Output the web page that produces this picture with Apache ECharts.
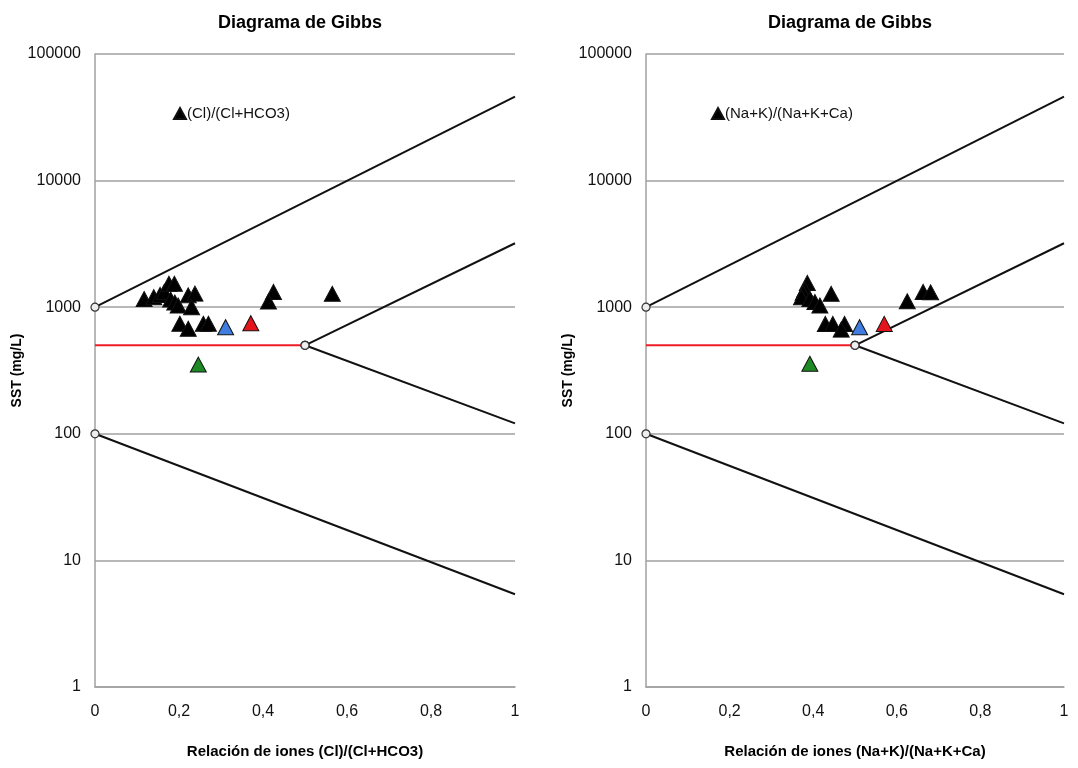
<!DOCTYPE html>
<html>
<head>
<meta charset="utf-8">
<script src="https://cdn.jsdelivr.net/npm/echarts@6/dist/echarts.min.js"></script>
<style>
  html, body { margin: 0; padding: 0; background: #fff; }
  #chart { width: 1078px; height: 768px; }
</style>
</head>
<body>
<div id="chart"></div>
<script>
// Gibbs boundary lines (x, SST) - shared by both panels
var upperLine = [[0, 1000], [1, 46000]];
var midUpper = [[0.5, 500], [1, 3200]];
var midLower = [[0.5, 500], [1, 121]];
var lowerLine = [[0, 100], [1, 5.4]];
var redLine = [[0, 500], [0.5, 500]];

// left panel: Cl/(Cl+HCO3)
var clBlack = [
    [0.117, 1160], [0.14, 1200], [0.155, 1250], [0.165, 1320], [0.176, 1530],
    [0.189, 1530], [0.18, 1150], [0.19, 1090], [0.198, 1030], [0.222, 1240],
    [0.238, 1280], [0.23, 1000], [0.202, 740], [0.222, 675], [0.258, 740],
    [0.27, 740], [0.425, 1320], [0.413, 1110], [0.565, 1275]
];
var clBlue = [[0.311, 695]];
var clRed = [[0.371, 748]];
var clGreen = [[0.246, 352]];

// right panel: (Na+K)/(Na+K+Ca)
var naBlack = [
    [0.386, 1556], [0.38, 1380], [0.376, 1300], [0.372, 1200], [0.392, 1160],
    [0.404, 1100], [0.416, 1030], [0.443, 1275], [0.429, 738], [0.447, 738],
    [0.475, 738], [0.467, 665], [0.625, 1115], [0.663, 1320], [0.681, 1310]
];
var naBlue = [[0.511, 695]];
var naRed = [[0.570, 738]];
var naGreen = [[0.392, 357]];

var yTicks = [1, 10, 100, 1000, 10000, 100000];
var xTicks = [0, 0.2, 0.4, 0.6, 0.8, 1];

var chart = echarts.init(document.getElementById('chart'));
var font = 'Liberation Sans, Arial, sans-serif';

function boundary(points, idx) {
    // circle markers only where the lines start
    return {
        type: 'line',
        xAxisIndex: idx, yAxisIndex: idx,
        data: points.map(function (p, i) {
            return i === 0 ? { value: p } : { value: p, symbol: 'none' };
        }),
        symbol: 'circle', symbolSize: 8,
        itemStyle: { color: '#eeeeee', borderColor: '#333', borderWidth: 1.2 },
        lineStyle: { color: '#111', width: 2 },
        silent: true, z: 2
    };
}

function dots(name, points, color, idx) {
    return {
        name: name,
        type: 'scatter',
        xAxisIndex: idx, yAxisIndex: idx,
        data: points,
        symbol: 'triangle', symbolSize: [16, 15],
        itemStyle: { color: color, borderColor: '#111', borderWidth: 1, opacity: 1 },
        z: 5
    };
}

function panel(idx, blk, blue, red, green, label) {
    var redSeries = {
        type: 'line', xAxisIndex: idx, yAxisIndex: idx,
        data: redLine.map(function (p, i) { return i === 1 ? { value: p } : { value: p, symbol: 'none' }; }),
        symbol: 'circle', symbolSize: 8,
        itemStyle: { color: '#eeeeee', borderColor: '#333', borderWidth: 1.2 },
        lineStyle: { color: '#ee1c24', width: 2 },
        silent: true, z: 3
    };
    return [
        boundary(upperLine, idx), boundary(midUpper, idx), boundary(midLower, idx),
        boundary(lowerLine, idx), redSeries,
        dots(label, blk, '#000000', idx),
        dots('blue' + idx, blue, '#3f7de0', idx),
        dots('red' + idx, red, '#e3141c', idx),
        dots('green' + idx, green, '#1e8a26', idx)
    ];
}

function yAxis(idx) {
    return {
        type: 'log', logBase: 10, min: 1, max: 100000, gridIndex: idx,
        name: 'SST (mg/L)', nameLocation: 'middle', nameGap: 70, nameRotate: 90,
        nameTextStyle: { fontFamily: font, fontSize: 14, fontWeight: 'bold', color: '#000' },
        axisLine: { show: true, lineStyle: { color: '#a0a0a0', width: 1.5 } },
        axisTick: { show: false },
        splitLine: { show: true, lineStyle: { color: '#a0a0a0', width: 1.5 } },
        axisLabel: { fontFamily: font, fontSize: 16, color: '#111', margin: 14,
            formatter: function (v) { return yTicks.indexOf(v) >= 0 ? String(v) : ''; } }
    };
}

function xAxis(idx, title) {
    return {
        type: 'value', min: 0, max: 1, interval: 0.2, gridIndex: idx,
        name: title, nameLocation: 'middle', nameGap: 57,
        nameTextStyle: { fontFamily: font, fontSize: 15, fontWeight: 'bold', color: '#000' },
        axisLine: { show: true, onZero: false, lineStyle: { color: '#a0a0a0', width: 1.5 } },
        axisTick: { show: false },
        splitLine: { show: false },
        axisLabel: { fontFamily: font, fontSize: 16, color: '#111', margin: 17,
            formatter: function (v) {
                var i = xTicks.indexOf(Math.round(v * 10) / 10);
                return i >= 0 ? String(xTicks[i]).replace('.', ',') : '';
            } }
    };
}

var option = {
    backgroundColor: '#ffffff',
    animation: false,
    title: [
        { text: 'Diagrama de Gibbs', left: 295, top: 9, textAlign: 'center',
          textStyle: { fontFamily: font, fontSize: 18, fontWeight: 'bold', color: '#000' } },
        { text: 'Diagrama de Gibbs', left: 845, top: 9, textAlign: 'center',
          textStyle: { fontFamily: font, fontSize: 18, fontWeight: 'bold', color: '#000' } }
    ],
    legend: [
        { data: ['(Cl)/(Cl+HCO3)'], left: 168, top: 101, icon: 'triangle',
          itemWidth: 12, itemHeight: 11, itemGap: 0,
          textStyle: { fontFamily: font, fontSize: 15, color: '#111', padding: [0, 0, 0, -4] } },
        { data: ['(Na+K)/(Na+K+Ca)'], left: 706, top: 101, icon: 'triangle',
          itemWidth: 12, itemHeight: 11, itemGap: 0,
          textStyle: { fontFamily: font, fontSize: 15, color: '#111', padding: [0, 0, 0, -4] } }
    ],
    grid: [
        { left: 95, top: 54, width: 420, height: 633 },
        { left: 646, top: 54, width: 418, height: 633 }
    ],
    xAxis: [xAxis(0, 'Relación de iones (Cl)/(Cl+HCO3)'), xAxis(1, 'Relación de iones (Na+K)/(Na+K+Ca)')],
    yAxis: [yAxis(0), yAxis(1)],
    series: panel(0, clBlack, clBlue, clRed, clGreen, '(Cl)/(Cl+HCO3)')
        .concat(panel(1, naBlack, naBlue, naRed, naGreen, '(Na+K)/(Na+K+Ca)'))
};

chart.setOption(option);
</script>
</body>
</html>
